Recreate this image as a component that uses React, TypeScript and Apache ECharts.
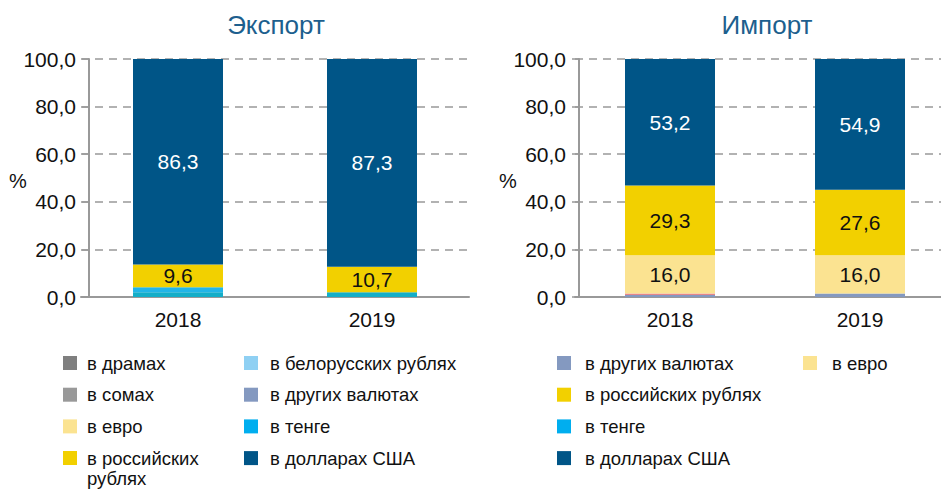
import React, { useEffect, useRef } from "react";
import * as echarts from "echarts";

const years = ["2018", "2019"];
const yTicks = [0, 20, 40, 60, 80, 100];

// Экспорт
const expDram = [0, 0];
const expSom = [0, 0];
const expByn = [2.0, 2.0];
const expOther = [0, 0];
const expKzt = [2.1, 0];
const expEur = [0, 0];
const expRub = [9.6, 10.7];
const expUsd = [86.3, 87.3];

// Импорт
const impOther = [0.8, 1.5];
const impKzt = [0.7, 0];
const impEur = [16.0, 16.0];
const impRub = [29.3, 27.6];
const impUsd = [53.2, 54.9];

const N_DRAM = "в драмах";
const N_SOM = "в сомах";
const N_BYN = "в белорусских рублях";
const N_OTHER = "в других валютах";
const N_KZT = "в тенге";
const N_EUR = "в евро";
const N_RUB = "в российских рублях";
const N_USD = "в долларах США";

const COLORS: Record<string, string> = {
  [N_DRAM]: "#7f7f7f",
  [N_SOM]: "#999999",
  [N_BYN]: "#8fd0f3",
  [N_OTHER]: "#8499c0",
  [N_KZT]: "#00aeef",
  [N_EUR]: "#fbe391",
  [N_RUB]: "#f2d000",
  [N_USD]: "#005587",
};

const FONT = "'Liberation Sans', Arial, sans-serif";
const fmt = (v: number) => v.toFixed(1).replace(".", ",");

export default function App() {
  const ref = useRef<HTMLDivElement>(null);
  useEffect(() => {
    if (!ref.current) return;
    const chart = echarts.init(ref.current, undefined, { renderer: "svg" });

    const mkSeries = (
      name: string,
      data: number[],
      idx: number,
      labelColor: string | null,
      itemColors?: (string | null)[]
    ) => ({
      type: "bar",
      name,
      stack: idx === 0 ? "e" : "i",
      xAxisIndex: idx,
      yAxisIndex: idx,
      barWidth: 90,
      itemStyle: { color: COLORS[name] },
      data: data.map((v, i) =>
        itemColors && itemColors[i]
          ? { value: v, itemStyle: { color: itemColors[i] } }
          : v
      ),
      label: labelColor
        ? {
            show: true,
            position: "inside",
            color: labelColor,
            fontSize: 21,
            fontFamily: FONT,
            formatter: (p: any) => fmt(p.value),
          }
        : { show: false },
    });

    const grids = [
      { left: 81, top: 59, width: 388, height: 238 },
      { left: 575, top: 59, width: 380, height: 238 },
    ];
    const axisOffsets = [-8, -4];

    const legendBase = {
      top: 353,
      orient: "vertical",
      itemWidth: 14,
      itemHeight: 14,
      itemGap: 11.7,
      padding: 0,
      icon: "rect",
      selectedMode: false,
    };
    const legText = (pad: number) => ({
      fontSize: 18.5,
      color: "#111",
      lineHeight: 20,
      padding: [0, 0, 0, pad],
    });

    const option: any = {
      animation: false,
      textStyle: { fontFamily: FONT },
      grid: grids,
      xAxis: grids.map((_, i) => ({
        type: "category",
        gridIndex: i,
        data: years,
        axisLine: { lineStyle: { color: "#999", width: 2 } },
        axisTick: { show: false },
        axisLabel: { color: "#111", fontSize: 21, margin: 12, fontFamily: FONT },
      })),
      yAxis: grids.map((_, i) => ({
        type: "value",
        gridIndex: i,
        min: 0,
        max: 100,
        interval: 20,
        offset: axisOffsets[i],
        axisLine: { show: true, lineStyle: { color: "#999", width: 2 } },
        axisTick: { show: true, length: 7, lineStyle: { color: "#999", width: 1.5 } },
        axisLabel: {
          color: "#111",
          fontSize: 21,
          margin: 13,
          fontFamily: FONT,
          formatter: (v: number) => (yTicks.includes(v) ? fmt(v) : ""),
        },
        splitLine: {
          show: true,
          lineStyle: { color: "#999", width: 1.5, type: [8, 6] },
        },
      })),
      legend: [
        {
          ...legendBase,
          left: 63,
          textStyle: legText(5),
          data: [N_DRAM, N_SOM, N_EUR],
        },
        {
          ...legendBase,
          top: 448,
          left: 63,
          itemHeight: 40,
          icon: "path://M0,0L0.01,0L0.01,0.01Z M0,3L14,3L14,17L0,17Z M0,40L0.01,40L0.01,39.99Z",
          textStyle: legText(5),
          data: [N_RUB],
          formatter: () => "в российских\nрублях",
        },
        {
          ...legendBase,
          left: 244,
          textStyle: legText(7),
          data: [N_BYN, N_OTHER, N_KZT, N_USD],
        },
        {
          ...legendBase,
          left: 557,
          textStyle: legText(9),
          data: [N_OTHER, N_RUB, N_KZT, N_USD],
        },
        {
          ...legendBase,
          left: 803,
          textStyle: legText(10),
          data: [N_EUR],
        },
      ],
      graphic: [
        {
          type: "text",
          x: 276,
          y: 25,
          style: {
            text: "Экспорт",
            fill: "#1d5f8e",
            fontSize: 26,
            fontFamily: FONT,
            align: "center",
            verticalAlign: "middle",
          },
        },
        {
          type: "text",
          x: 767,
          y: 25,
          style: {
            text: "Импорт",
            fill: "#1d5f8e",
            fontSize: 26,
            fontFamily: FONT,
            align: "center",
            verticalAlign: "middle",
          },
        },
        {
          type: "text",
          x: 18,
          y: 181,
          style: { text: "%", fill: "#111", fontSize: 20, fontFamily: FONT, align: "center", verticalAlign: "middle" },
        },
        {
          type: "text",
          x: 508,
          y: 181,
          style: { text: "%", fill: "#111", fontSize: 20, fontFamily: FONT, align: "center", verticalAlign: "middle" },
        },
      ],
      series: [
        mkSeries(N_DRAM, expDram, 0, null),
        mkSeries(N_SOM, expSom, 0, null),
        mkSeries(N_BYN, expByn, 0, null, ["#14aec8", "#14aec8"]),
        mkSeries(N_OTHER, expOther, 0, null),
        mkSeries(N_KZT, expKzt, 0, null, ["#22b5e8", null]),
        mkSeries(N_EUR, expEur, 0, null),
        mkSeries(N_RUB, expRub, 0, "#111"),
        mkSeries(N_USD, expUsd, 0, "#fff"),
        mkSeries(N_OTHER, impOther, 1, null),
        mkSeries(N_KZT, impKzt, 1, null, ["#e5868c", null]),
        mkSeries(N_EUR, impEur, 1, "#111"),
        mkSeries(N_RUB, impRub, 1, "#111"),
        mkSeries(N_USD, impUsd, 1, "#fff"),
      ],
    };
    chart.setOption(option);
    return () => chart.dispose();
  }, []);
  return (
    <div
      style={{
        position: "fixed",
        left: 0,
        top: 0,
        width: 941,
        height: 489,
        overflow: "hidden",
        background: "#fff",
      }}
    >
      <div ref={ref} style={{ width: 970, height: 489 }} />
    </div>
  );
}
